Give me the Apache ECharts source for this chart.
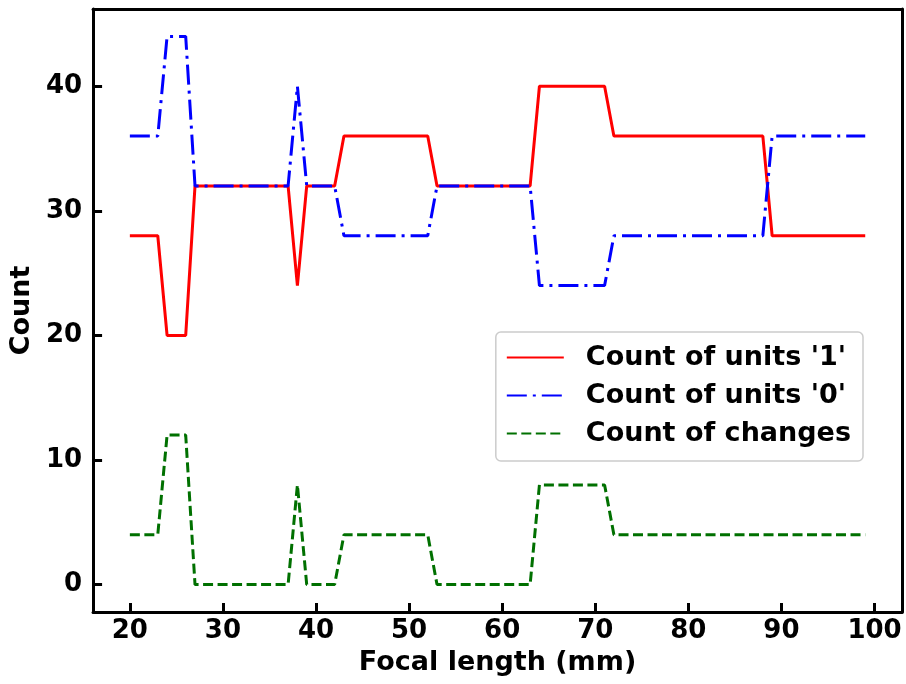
<!DOCTYPE html>
<html>
<head>
<meta charset="utf-8">
<script src="https://cdn.jsdelivr.net/npm/echarts@6/dist/echarts.min.js"></script>
<style>html,body{margin:0;padding:0;background:#fff;}#c{width:906px;height:684px;}</style>
</head>
<body>
<div id="c"></div>
<script>
var focal = [20,21,22,23,24,25,26,27,28,29,30,31,32,33,34,35,36,37,38,39,40,41,42,43,44,45,46,47,48,49,50,51,52,53,54,55,56,57,58,59,60,61,62,63,64,65,66,67,68,69,70,71,72,73,74,75,76,77,78,79,80,81,82,83,84,85,86,87,88,89,90,91,92,93,94,95,96,97,98,99];
var units1 = [28,28,28,28,20,20,20,32,32,32,32,32,32,32,32,32,32,32,24,32,32,32,32,36,36,36,36,36,36,36,36,36,36,32,32,32,32,32,32,32,32,32,32,32,40,40,40,40,40,40,40,40,36,36,36,36,36,36,36,36,36,36,36,36,36,36,36,36,36,28,28,28,28,28,28,28,28,28,28,28];
var units0 = [36,36,36,36,44,44,44,32,32,32,32,32,32,32,32,32,32,32,40,32,32,32,32,28,28,28,28,28,28,28,28,28,28,32,32,32,32,32,32,32,32,32,32,32,24,24,24,24,24,24,24,24,28,28,28,28,28,28,28,28,28,28,28,28,28,28,28,28,28,36,36,36,36,36,36,36,36,36,36,36];
var changes = [4,4,4,4,12,12,12,0,0,0,0,0,0,0,0,0,0,0,8,0,0,0,0,4,4,4,4,4,4,4,4,4,4,0,0,0,0,0,0,0,0,0,0,0,8,8,8,8,8,8,8,8,4,4,4,4,4,4,4,4,4,4,4,4,4,4,4,4,4,4,4,4,4,4,4,4,4,4,4,4];
var xTicks = [20,30,40,50,60,70,80,90,100];
var yTicks = [0,10,20,30,40];
var names = ["Count of units '1'", "Count of units '0'", "Count of changes"];

function pairs(ys){ return focal.map(function(x,i){ return [x, ys[i]]; }); }
var FONT = 'DejaVu Sans';
var XMIN = 16.05, XMAX = 102.95, YMIN = -2.2, YMAX = 46.2;
var spine = {show: true, onZero: false, lineStyle: {color: '#000', width: 3}};
var chart = echarts.init(document.getElementById('c'), null, {renderer:'canvas'});
chart.setOption({
  animation: false,
  backgroundColor: '#fff',
  grid: {left: 93, top: 9, width: 809, height: 603, show: false},
  xAxis: [{
    type: 'value', min: XMIN, max: XMAX, position: 'bottom',
    name: 'Focal length (mm)', nameLocation: 'middle', nameGap: 37,
    nameTextStyle: {fontFamily: FONT, fontWeight: 'bold', fontSize: 27, color: '#000'},
    axisLine: spine,
    splitLine: {show: false},
    axisTick: {show: true, inside: true, length: 9, customValues: xTicks, lineStyle: {color: '#000', width: 3}},
    axisLabel: {customValues: xTicks, margin: 6, fontFamily: FONT, fontWeight: 'bold', fontSize: 26, color: '#000'}
  }, {
    type: 'value', min: XMIN, max: XMAX, position: 'top',
    axisLine: spine, axisTick: {show: false}, axisLabel: {show: false}, splitLine: {show: false}
  }],
  yAxis: [{
    type: 'value', min: YMIN, max: YMAX, position: 'left',
    name: 'Count', nameLocation: 'middle', nameGap: 52,
    nameTextStyle: {fontFamily: FONT, fontWeight: 'bold', fontSize: 27, color: '#000'},
    axisLine: spine,
    splitLine: {show: false},
    axisTick: {show: true, inside: true, length: 9, customValues: yTicks, lineStyle: {color: '#000', width: 3}},
    axisLabel: {customValues: yTicks, margin: 11, fontFamily: FONT, fontWeight: 'bold', fontSize: 26, color: '#000'}
  }, {
    type: 'value', min: YMIN, max: YMAX, position: 'right',
    axisLine: spine, axisTick: {show: false}, axisLabel: {show: false}, splitLine: {show: false}
  }],
  legend: {
    right: 43, top: 332, orient: 'vertical',
    itemWidth: 57, itemHeight: 2, itemGap: 11,
    padding: [12, 12, 14, 10],
    backgroundColor: '#fff', borderColor: '#ccc', borderWidth: 1.5, borderRadius: 5,
    itemStyle: {opacity: 0},
    textStyle: {fontFamily: FONT, fontWeight: 'bold', fontSize: 27, lineHeight: 27, color: '#000', padding: [0,0,0,17]},
    data: names
  },
  series: [
    {name: names[0], type: 'line', data: pairs(units1), symbol: 'none', color: '#ff0000', lineStyle: {color: '#ff0000', width: 3}, z: 2},
    {name: names[1], type: 'line', data: pairs(units0), symbol: 'none', color: '#0000ff', lineStyle: {color: '#0000ff', width: 3, type: [20, 6, 3, 6]}, z: 3},
    {name: names[2], type: 'line', data: pairs(changes), symbol: 'none', color: '#007000', lineStyle: {color: '#007000', width: 3, type: [10, 4.5]}, z: 4}
  ]
});
</script>
</body>
</html>
